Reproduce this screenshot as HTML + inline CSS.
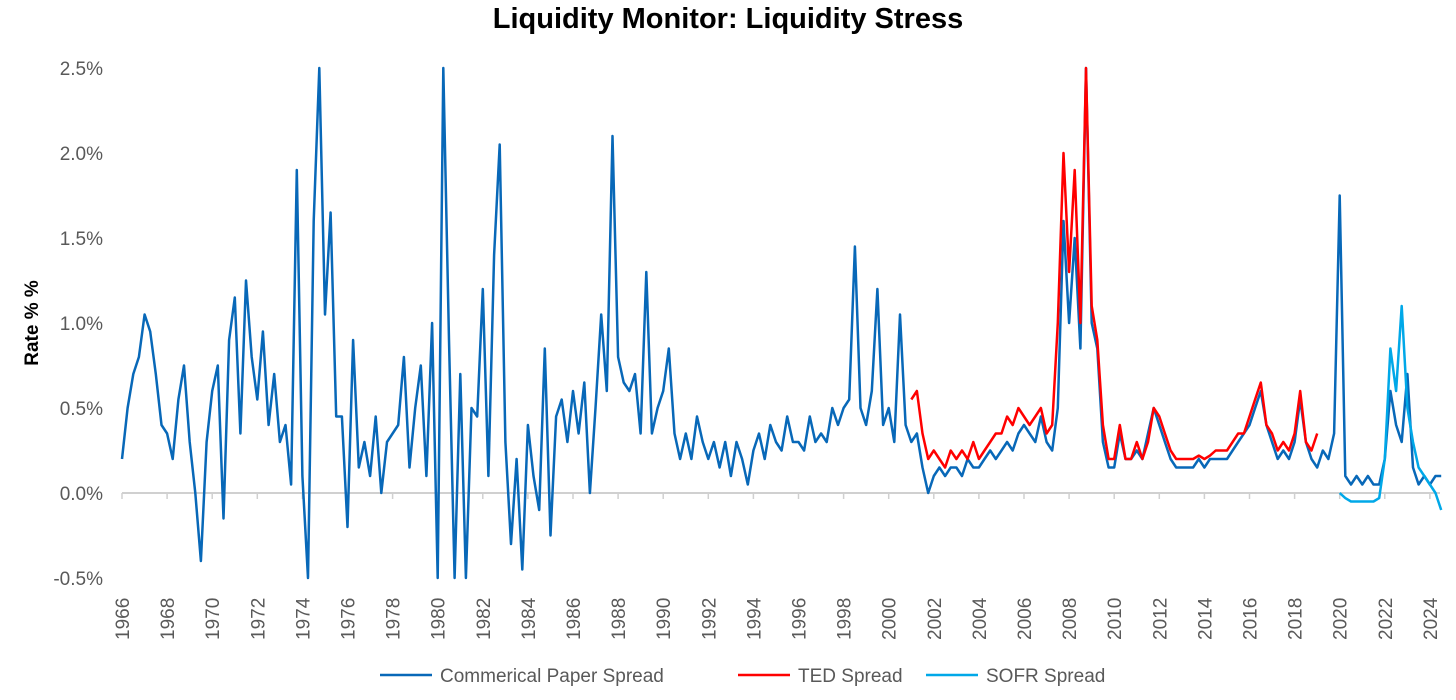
<!DOCTYPE html>
<html><head><meta charset="utf-8"><style>
body{margin:0;background:#fff;font-family:"Liberation Sans",Calibri,sans-serif;}
svg text{font-family:"Liberation Sans",sans-serif;}
</style></head><body>
<svg id="chart" width="1456" height="695">
<text x="728" y="28" text-anchor="middle" font-size="29" font-weight="bold" fill="#000">Liquidity Monitor: Liquidity Stress</text>
<text transform="translate(38,323) rotate(-90)" text-anchor="middle" font-size="19" font-weight="bold" fill="#000">Rate % %</text>
<g id="yticks"></g><g id="xticks"></g>
<defs><clipPath id="pc"><rect x="118" y="66" width="1330" height="514"/></clipPath></defs>
<g id="series" clip-path="url(#pc)"></g>
<g>
<line x1="380" y1="675" x2="432" y2="675" stroke="#0868b8" stroke-width="2.5"/>
<text x="440" y="682" font-size="19" fill="#595959">Commerical Paper Spread</text>
<line x1="738" y1="675" x2="790" y2="675" stroke="#ff0000" stroke-width="2.5"/>
<text x="798" y="682" font-size="19" fill="#595959">TED Spread</text>
<line x1="926" y1="675" x2="978" y2="675" stroke="#00a8e8" stroke-width="2.5"/>
<text x="986" y="682" font-size="19" fill="#595959">SOFR Spread</text>
</g>
</svg>
<script>
const yTicks=[-0.5,0,0.5,1.0,1.5,2.0,2.5];
const yTickLabels=["-0.5%","0.0%","0.5%","1.0%","1.5%","2.0%","2.5%"];
const xYears=[1966,1968,1970,1972,1974,1976,1978,1980,1982,1984,1986,1988,1990,1992,1994,1996,1998,2000,2002,2004,2006,2008,2010,2012,2014,2016,2018,2020,2022,2024];
const cpStart=1966;
const cpValues=[0.2,0.5,0.7,0.8, 1.05,0.95,0.7,0.4, 0.35,0.2,0.55,0.75, 0.3,0.0,-0.4,0.3, 0.6,0.75,-0.15,0.9, 1.15,0.35,1.25,0.8, 0.55,0.95,0.4,0.7, 0.3,0.4,0.05,1.9, 0.1,-0.5,1.6,2.5, 1.05,1.65,0.45,0.45, -0.2,0.9,0.15,0.3, 0.1,0.45,0.0,0.3, 0.35,0.4,0.8,0.15, 0.5,0.75,0.1,1.0, -0.5,2.5,0.9,-0.5, 0.7,-0.5,0.5,0.45, 1.2,0.1,1.4,2.05, 0.3,-0.3,0.2,-0.45, 0.4,0.1,-0.1,0.85, -0.25,0.45,0.55,0.3, 0.6,0.35,0.65,0.0, 0.5,1.05,0.6,2.1, 0.8,0.65,0.6,0.7, 0.35,1.3,0.35,0.5, 0.6,0.85,0.35,0.2, 0.35,0.2,0.45,0.3, 0.2,0.3,0.15,0.3, 0.1,0.3,0.2,0.05, 0.25,0.35,0.2,0.4, 0.3,0.25,0.45,0.3, 0.3,0.25,0.45,0.3, 0.35,0.3,0.5,0.4, 0.5,0.55,1.45,0.5, 0.4,0.6,1.2,0.4, 0.5,0.3,1.05,0.4, 0.3,0.35,0.15,0.0, 0.1,0.15,0.1,0.15, 0.15,0.1,0.2,0.15, 0.15,0.2,0.25,0.2, 0.25,0.3,0.25,0.35, 0.4,0.35,0.3,0.45, 0.3,0.25,0.5,1.6, 1.0,1.5,0.85,2.5, 1.0,0.85,0.3,0.15, 0.15,0.35,0.2,0.2, 0.25,0.2,0.35,0.5, 0.4,0.3,0.2,0.15, 0.15,0.15,0.15,0.2, 0.15,0.2,0.2,0.2, 0.2,0.25,0.3,0.35, 0.4,0.5,0.6,0.4, 0.3,0.2,0.25,0.2, 0.3,0.55,0.3,0.2, 0.15,0.25,0.2,0.35, 1.75,0.1,0.05,0.1, 0.05,0.1,0.05,0.05, 0.2,0.6,0.4,0.3, 0.7,0.15,0.05,0.1, 0.05,0.1,0.1];
const tedStart=2001;
const tedValues=[0.55,0.6,0.35,0.2, 0.25,0.2,0.15,0.25, 0.2,0.25,0.2,0.3, 0.2,0.25,0.3,0.35, 0.35,0.45,0.4,0.5, 0.45,0.4,0.45,0.5, 0.35,0.4,1.0,2.0, 1.3,1.9,1.0,2.5, 1.1,0.9,0.4,0.2, 0.2,0.4,0.2,0.2, 0.3,0.2,0.3,0.5, 0.45,0.35,0.25,0.2, 0.2,0.2,0.2,0.22, 0.2,0.22,0.25,0.25, 0.25,0.3,0.35,0.35, 0.45,0.55,0.65,0.4, 0.35,0.25,0.3,0.25, 0.35,0.6,0.3,0.25, 0.35];
const sofrStart=2020;
const sofrValues=[0.0,-0.03,-0.05,-0.05, -0.05,-0.05,-0.05,-0.03, 0.2,0.85,0.6,1.1, 0.5,0.3,0.15,0.1, 0.05,0.0,-0.1];

const NS="http://www.w3.org/2000/svg";
const X=t=>122+(t-1966)*22.55;
const Y=v=>493-v*170;
function mk(tag,attrs,parent){const e=document.createElementNS(NS,tag);for(const k in attrs)e.setAttribute(k,attrs[k]);parent.appendChild(e);return e;}
const yg=document.getElementById('yticks');
yTicks.forEach((v,i)=>{
  const t=mk('text',{x:103,y:Y(v)+7,'text-anchor':'end','font-size':19,fill:'#595959'},yg);
  t.textContent=yTickLabels[i];
  
  
});
const base=mk('line',{x1:122,y1:Y(0),x2:1440,y2:Y(0),stroke:'#d0d0d0','stroke-width':2},yg);


const xg=document.getElementById('xticks');
xYears.forEach(yr=>{
  const x=X(yr);
  mk('line',{x1:x,y1:Y(0),x2:x,y2:Y(0)+6,stroke:'#d0d0d0','stroke-width':1.5},xg);
  const t=mk('text',{transform:`translate(${x+7},${640}) rotate(-90)`,'font-size':19,fill:'#595959'},xg);
  t.textContent=yr;
  
  
});
const sg=document.getElementById('series');
function draw(start,vals,color,name){
  const d=vals.map((v,i)=>(i?'L':'M')+X(start+i*0.25).toFixed(1)+','+Y(v).toFixed(1)).join('');
  const p=mk('path',{d:d,fill:'none',stroke:color,'stroke-width':2.5,'stroke-linejoin':'round'},sg);
  
  
}
draw(cpStart,cpValues,'#0868b8','cp-spread-line');
draw(tedStart,tedValues,'#ff0000','ted-spread-line');
draw(sofrStart,sofrValues,'#00a8e8','sofr-spread-line');
</script>
</body></html>
